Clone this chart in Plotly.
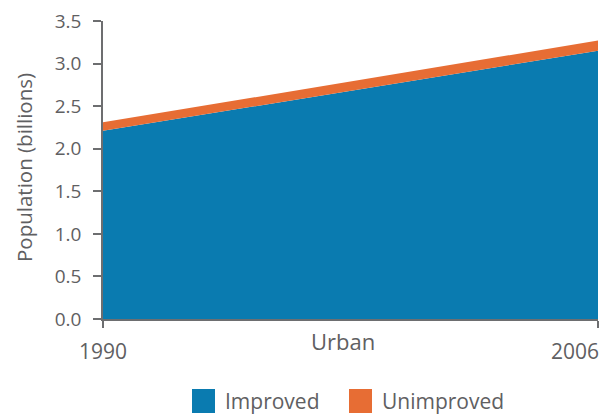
import plotly.graph_objects as go

years = [1990, 2006]
improved = [2.21, 3.15]
unimproved = [0.10, 0.12]
series_names = ["Improved", "Unimproved"]
colors = ["#0a7bb0", "#e76d34"]
y_ticks = [0.0, 0.5, 1.0, 1.5, 2.0, 2.5, 3.0, 3.5]
x_ticks = [1990, 2006]

FONT = "Open Sans"
GREY = "#5f6062"
AXIS = "#6d6e70"

# plot area in reference pixels: x 103..598, y 21..319 (page body adds 8px offset)
def px(x):
    return (x - 103) / 495

def py(y):
    return (319 - y) / 298

fig = go.Figure()
fig.add_trace(go.Scatter(x=years, y=improved, name=series_names[0], mode="lines",
                         line=dict(width=0, color=colors[0]), fillcolor=colors[0],
                         stackgroup="one", showlegend=False))
fig.add_trace(go.Scatter(x=years, y=unimproved, name=series_names[1], mode="lines",
                         line=dict(width=0, color=colors[1]), fillcolor=colors[1],
                         stackgroup="one", showlegend=False))

fig.update_layout(
    width=608, height=415,
    margin=dict(l=95, r=18, t=13, b=104, autoexpand=False),
    paper_bgcolor="white", plot_bgcolor="white",
    font=dict(family=FONT, color=GREY),
    showlegend=False,
    xaxis=dict(range=[1990, 2006], tickvals=x_ticks, showticklabels=False,
               ticks="outside", ticklen=7, tickcolor=AXIS, tickwidth=1.5,
               showline=True, linecolor=AXIS, linewidth=1.5,
               showgrid=False, zeroline=False),
    yaxis=dict(range=[0, 3.5], tickvals=y_ticks, tickformat=".1f",
               ticks="outside", ticklen=8, tickcolor=AXIS, tickwidth=1.5,
               showline=True, linecolor=AXIS, linewidth=1.5,
               showgrid=False, zeroline=False, ticklabelstandoff=8,
               ticklabeloverflow="allow",
               tickfont=dict(size=19, color=GREY)),
)

# x tick labels
fig.add_annotation(x=x_ticks[0], y=0, xref="x", yref="paper", text=str(x_ticks[0]),
                   showarrow=False, xanchor="center", yanchor="top", yshift=-16,
                   font=dict(size=21, color=GREY))
fig.add_annotation(x=x_ticks[1], y=0, xref="x", yref="paper", text=str(x_ticks[1]),
                   showarrow=False, xanchor="right", xshift=3, yanchor="top", yshift=-16,
                   font=dict(size=21, color=GREY))

# x title
fig.add_annotation(x=px(342.5), y=py(341), xref="paper", yref="paper", text="Urban",
                   showarrow=False, xanchor="center", yanchor="middle",
                   font=dict(size=22, color=GREY))

# y title
fig.add_annotation(x=px(24), y=py(168), xref="paper", yref="paper", text="Population (billions)",
                   textangle=-90, showarrow=False, xanchor="center", yanchor="middle",
                   font=dict(size=20.5, color=GREY))

# legend
legend_items = [(series_names[0], colors[0], 192), (series_names[1], colors[1], 349)]
for name, col, x0 in legend_items:
    fig.add_shape(type="rect", xref="paper", yref="paper",
                  x0=px(x0), x1=px(x0 + 23), y0=py(413), y1=py(389),
                  fillcolor=col, line=dict(width=0))
    fig.add_annotation(x=px(x0 + 31), y=py(401), xref="paper", yref="paper",
                       text=name, showarrow=False, xanchor="left", yanchor="middle",
                       font=dict(size=21, color=GREY))

fig.write_html("out.html")
